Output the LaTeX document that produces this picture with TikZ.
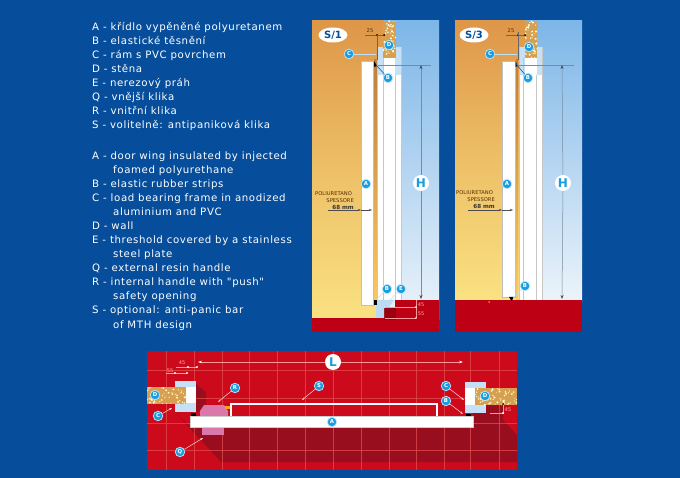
\documentclass[tikz,border=0pt]{standalone}
\usepackage{fontspec}
\setmainfont{DejaVu Sans}
\newfontfamily\legendfont[LetterSpace=6]{DejaVu Sans}
\usetikzlibrary{arrows.meta,shapes.geometric}
\definecolor{bgblue}{RGB}{6,78,156}
\definecolor{badgeblue}{RGB}{24,156,226}
\definecolor{floorred}{RGB}{190,0,20}
\definecolor{tilered}{RGB}{204,10,28}
\definecolor{shadowred}{RGB}{152,14,30}
\definecolor{gridred}{RGB}{226,76,76}
\definecolor{framelight}{RGB}{198,224,245}
\definecolor{wallbrown}{RGB}{214,160,80}
\definecolor{orangetop}{RGB}{222,150,72}
\definecolor{yellowbot}{RGB}{250,226,130}
\definecolor{bluetop}{RGB}{125,182,232}
\definecolor{bluebot}{RGB}{236,244,250}
\definecolor{pinkh}{RGB}{218,120,170}
\definecolor{dimgray}{RGB}{120,140,155}
\tikzset{
  legend/.style={anchor=base west,inner sep=0pt,text=white,font=\legendfont\fontsize{10.2}{12}\selectfont},
  badge/.style={circle,fill=badgeblue,draw=white!75!badgeblue,line width=.7pt,inner sep=0pt,minimum size=9.5pt,text=white,font=\fontsize{5.4}{5}\selectfont\bfseries},
  bigbadge/.style={circle,fill=white,draw=none,inner sep=0pt,minimum size=16pt,text=badgeblue,font=\fontsize{12}{12}\selectfont\bfseries},
  tagoval/.style={ellipse,fill=white,inner sep=0pt,minimum width=29pt,minimum height=15pt,text=bgblue,font=\fontsize{10}{10}\selectfont\bfseries},
  leaderp/.style={draw=white!70!badgeblue,line width=.5pt},
  leaderw/.style={draw=white!85!red,line width=.5pt,-{Stealth[length=3pt,width=2pt]}},
  dimline/.style={draw=dimgray,line width=.5pt,-{Stealth[length=4pt,width=3pt,color=black!70]}},
  smalldim/.style={draw=black!60,line width=.4pt},
  smallarrow/.style={draw=black!70,line width=.4pt,-{Stealth[length=3pt,width=2pt]}},
  smalltxt/.style={inner sep=0pt,text=black!65!orange,font=\fontsize{5.2}{6}\selectfont},
  redtxt/.style={inner sep=0pt,text=white!65!red,font=\fontsize{5}{6}\selectfont},
  framerule/.style={draw=black!22,line width=.5pt},
  gridline/.style={draw=gridred,line width=.6pt,draw opacity=.75},
  lline/.style={draw=white!60!red,line width=.5pt,-{Stealth[length=4pt,width=2.5pt,color=white]}},
  redrule/.style={draw=white!60!red,line width=.35pt},
}
\begin{document}
\begin{tikzpicture}[x=1pt,y=-1pt]
\useasboundingbox (0,0) rectangle (680,478);
\fill[bgblue] (0,0) rectangle (680,478);
% legend text
\node[legend] (cz1) at (92,31) {A - křídlo vypěněné polyuretanem};
\node[legend] (cz2) at (92,45) {B - elastické těsnění};
\node[legend] (cz3) at (92,59) {C - rám s PVC povrchem};
\node[legend] (cz4) at (92,73) {D - stěna};
\node[legend] (cz5) at (92,87) {E - nerezový práh};
\node[legend] (cz6) at (92,101) {Q - vnější klika};
\node[legend] (cz7) at (92,115) {R - vnitřní klika};
\node[legend] (cz8) at (92,129) {S - volitelně: antipaniková klika};
\node[legend] (en1) at (92,160) {A - door wing insulated by injected};
\node[legend] (en2) at (113,174) {foamed polyurethane};
\node[legend] (en3) at (92,188) {B - elastic rubber strips};
\node[legend] (en4) at (92,202) {C - load bearing frame in anodized};
\node[legend] (en5) at (113,216) {aluminium and PVC};
\node[legend] (en6) at (92,230) {D - wall};
\node[legend] (en7) at (92,244) {E - threshold covered by a stainless};
\node[legend] (en8) at (113,258) {steel plate};
\node[legend] (en9) at (92,272) {Q - external resin handle};
\node[legend] (en10) at (92,286) {R - internal handle with "push"};
\node[legend] (en11) at (113,300) {safety opening};
\node[legend] (en12) at (92,314) {S - optional: anti-panic bar};
\node[legend] (en13) at (113,328) {of MTH design};

% ---------- panel S/1
\shade[top color=orangetop,bottom color=yellowbot,middle color=orangetop!45!yellowbot] (312,21) rectangle (384,320);
\shade[top color=bluetop,bottom color=bluebot] (384,21) rectangle (439,320);
\fill[floorred] (312,318) rectangle (439,332);
\fill[floorred] (395,300) rectangle (439,320);
\fill[floorred!80!black] (384,308) rectangle (396,320);
\fill[white] (377,47) rectangle (402,300);
\fill[framelight] (377,47) rectangle (402,58);
\fill[framelight] (377,58) rectangle (384,75);
\fill[framelight] (395,58) rectangle (402,75);
\draw[framerule] (383,58) -- (383,300) (395,75) -- (395,300) (401,47) -- (401,300) (377,47) -- (377,300);
\fill[wallbrown] (383,21) rectangle (396,58);
\begin{scope}
\clip (383,21) rectangle (396,58);
\pgfmathsetseed{11}
\foreach \i in {1,...,45}{\fill[white!85!yellow] (383+13*rnd,21+37*rnd) circle[radius=.4+.8*rnd];}
\end{scope}
\shade[top color=orangetop!85!black,bottom color=yellowbot!75!orange] (374,60) rectangle (376.5,305);
\fill[white] (361,61) rectangle (373,305);
\draw[black!25,line width=.4pt] (361,61) rectangle (373,305);
% threshold
\fill[framelight!85!bluetop] (376,300) -- (394,300) -- (389,307) -- (384,307) -- (384,318) -- (376,318) -- cycle;
\fill[black] (373.5,300) -- (376.5,300) -- (376.5,305) -- (373.5,305) -- cycle;
\fill[black] (374,61) -- (377,66) -- (374,67) -- cycle;
% dimensions
\coordinate (a25l) at (365,35);
\coordinate (a25r) at (385,35);
\draw[smalldim] (a25l) -- (a25r);
\fill[black] (377,35) circle[radius=1] (384,35) circle[radius=1];
\draw[smalldim] (377,35) -- (377,60);
\node[smalltxt] (n25a) at (370,31) {25};
\coordinate (h1t) at (378,65); \coordinate (h1e) at (431,65);
\draw[draw=dimgray,line width=.5pt] (h1t) -- (h1e);
\node[bigbadge] (H1) at (421,183) {H};
\coordinate (h1a) at (421,65); \coordinate (h1b) at (421,299);
\draw[dimline] (H1) -- (h1a);
\draw[dimline] (H1) -- (h1b);
\node[smalltxt,anchor=west] (pa1) at (315,194) {POLIURETANO};
\node[smalltxt,anchor=east] (pa2) at (354,201) {SPESSORE};
\node[anchor=east,inner sep=0pt,text=black!80,font=\fontsize{5.6}{6}\selectfont\bfseries] (pa3) at (354,207) {68 mm};
\coordinate (p1a) at (328,210); \coordinate (p1b) at (361,210); \coordinate (p1c) at (372,210);
\draw[smallarrow] (p1a) -- (p1b);
\draw[smallarrow] (p1b) -- (p1c);
\coordinate (d1a) at (385,307); \coordinate (d1b) at (416,307);
\coordinate (d1c) at (385,318); \coordinate (d1d) at (416,318);
\draw[redrule] (d1a) -- (d1b) (d1c) -- (d1d) (416,300) -- (d1d);
\fill[white] (d1b) circle[radius=.9] (d1d) circle[radius=.9];
\node[redtxt] (n45a) at (421,305) {45};
\node[redtxt] (n55a) at (421,314) {55};
\node[tagoval] (S1) at (333,35) {S/1};
\node[badge] (D1) at (389,45) {D};
\node[badge] (C1) at (349,54) {C};
\node[badge] (B1) at (388,78) {B};
\node[badge] (A1) at (366,184) {A};
\node[badge] (B1b) at (387,289) {B};
\node[badge] (E1) at (401,289) {E};
\coordinate (c1t) at (376,54); \coordinate (b1t) at (376,65);
\coordinate (b1bt) at (376,300); \coordinate (e1t) at (390,300);
\draw[leaderp] (C1) -- (c1t);
\draw[leaderp,draw=bgblue] (B1) -- (b1t);
\draw[leaderp] (B1b) -- (b1bt);
\draw[leaderp] (E1) -- (e1t);

% ---------- panel S/3
\shade[top color=orangetop,bottom color=yellowbot,middle color=orangetop!45!yellowbot] (455,21) rectangle (525,302);
\shade[top color=bluetop,bottom color=bluebot] (525,21) rectangle (582,302);
\fill[floorred] (455,300) rectangle (582,332);
\fill[white] (519,47) rectangle (543,300);
\fill[framelight] (519,47) rectangle (543,58);
\fill[framelight] (519,58) rectangle (525,75);
\fill[framelight] (537,58) rectangle (543,75);
\draw[framerule] (523.5,58) -- (523.5,300) (536,75) -- (536,300) (542.5,47) -- (542.5,300) (519,47) -- (519,300);
\fill[wallbrown] (525,21) rectangle (537,58);
\begin{scope}
\clip (525,21) rectangle (537,58);
\pgfmathsetseed{23}
\foreach \i in {1,...,42}{\fill[white!85!yellow] (525+12*rnd,21+37*rnd) circle[radius=.4+.8*rnd];}
\end{scope}
\shade[top color=orangetop!85!black,bottom color=yellowbot!75!orange] (516,60) rectangle (518,300);
\fill[white] (502,61) rectangle (515,297);
\draw[black!25,line width=.4pt] (502,61) rectangle (515,297);
\fill[black] (509,297) -- (514,297) -- (511.5,301) -- cycle;
\fill[black] (515.5,61) -- (517.5,66) -- (515.5,67) -- cycle;
\fill[orange] (489,302) circle[radius=1];
\coordinate (b25l) at (506,35);
\coordinate (b25r) at (526,35);
\draw[smalldim] (b25l) -- (b25r);
\fill[black] (518,35) circle[radius=1] (525,35) circle[radius=1];
\draw[smalldim] (518,32) -- (518,60);
\node[smalltxt] (n25b) at (511,31) {25};
\coordinate (h3t) at (517,65); \coordinate (h3e) at (574,65);
\draw[draw=dimgray,line width=.5pt] (h3t) -- (h3e);
\node[bigbadge] (H3) at (563,183) {H};
\coordinate (h3a) at (562,65); \coordinate (h3b) at (562,299);
\draw[dimline] (H3) -- (h3a);
\draw[dimline] (H3) -- (h3b);
\node[smalltxt,anchor=west] (pb1) at (456,193) {POLIURETANO};
\node[smalltxt,anchor=east] (pb2) at (495,200) {SPESSORE};
\node[anchor=east,inner sep=0pt,text=black!80,font=\fontsize{5.6}{6}\selectfont\bfseries] (pb3) at (495,206) {68 mm};
\coordinate (p3a) at (468,210); \coordinate (p3b) at (502,210); \coordinate (p3c) at (513,210);
\draw[smallarrow] (p3a) -- (p3b);
\draw[smallarrow] (p3b) -- (p3c);
\node[tagoval] (S3) at (474,35) {S/3};
\node[badge] (D3) at (529,47) {D};
\node[badge] (C3) at (490,54) {C};
\node[badge] (B3) at (528,78) {B};
\node[badge] (A3) at (507,184) {A};
\node[badge] (B3b) at (525,286) {B};
\coordinate (c3t) at (517,54); \coordinate (b3t) at (516,64); \coordinate (b3bt) at (513,298);
\draw[leaderp] (C3) -- (c3t);
\draw[leaderp,draw=bgblue] (B3) -- (b3t);
\draw[leaderp] (B3b) -- (b3bt);

% ---------- plan
\fill[tilered] (147,351) rectangle (517,470);
\fill[shadowred] (175,412) -- (221,462) -- (517,462) -- (517,435) -- (503,420) -- (503,405) -- (473,405) -- (473,427) -- (190,427) -- cycle;
\fill[shadowred] (196,384) -- (206,392) -- (206,408) -- (196,412) -- cycle;
\begin{scope}
\clip (147,351) rectangle (517,470);
\foreach \x in {166,194,222,249,277,305,333,361,389,416,444,470,499}{\draw[gridline] (\x,351) -- (\x,470);}
\foreach \y in {370,398,423,450}{\draw[gridline] (147,\y) -- (517,\y);}
\end{scope}
% left frame
\fill[framelight] (175,381) rectangle (196,412);
\fill[white] (186,387) rectangle (196,403);
\fill[wallbrown] (147,387) rectangle (186,404);
\begin{scope}
\clip (147,387) rectangle (186,404);
\pgfmathsetseed{7}
\foreach \i in {1,...,60}{\fill[white!85!yellow] (147+39*rnd,387+17*rnd) circle[radius=.4+.7*rnd];}
\end{scope}
% right frame
\fill[framelight] (465,382) rectangle (486,413);
\fill[white] (465,388) rectangle (475,405);
\fill[wallbrown] (475,388) rectangle (517,405);
\begin{scope}
\clip (475,388) rectangle (517,405);
\pgfmathsetseed{5}
\foreach \i in {1,...,60}{\fill[white!85!yellow] (475+42*rnd,388+17*rnd) circle[radius=.4+.7*rnd];}
\end{scope}
% handles
\fill[pinkh] (200,411) -- (204,405) -- (224,405) -- (228,411) -- (228,416) -- (200,416) -- cycle;
\fill[pinkh] (202,425) rectangle (224,435);
\fill[orange!70!yellow] (225,406) rectangle (231,409);
% push bar and door
\draw[white,line width=1.8pt] (231,416) -- (231,404) -- (437,404) -- (437,416);
\fill[white] (190,416) rectangle (473,427);
\draw[black!20,line width=.4pt] (190,416) rectangle (473,427);
\fill[black] (191,413) rectangle (196,416);
\fill[black] (466,414) rectangle (471,416);
% L dimension
\node[bigbadge] (L0) at (333,362) {L};
\coordinate (lla) at (198,362); \coordinate (llb) at (463,362);
\draw[lline] (L0) -- (lla);
\draw[lline] (L0) -- (llb);
% small dimensions
\coordinate (q1a) at (176,367); \coordinate (q1b) at (188,367); \coordinate (q1c) at (197,367);
\coordinate (q2a) at (166,373); \coordinate (q2b) at (175,373); \coordinate (q2c) at (187,373);
\draw[redrule] (q1a) -- (q1c) (q2a) -- (q2c);
\fill[white] (q1b) circle[radius=1.2] (q1c) circle[radius=1.2] (q2b) circle[radius=1.2] (q2c) circle[radius=1.2];
\node[redtxt] (n45b) at (182,363) {45};
\node[redtxt] (n55b) at (170,371) {55};
\coordinate (r1a) at (490,413); \coordinate (r1b) at (503,413); \coordinate (r1c) at (503,404);
\draw[redrule] (r1a) -- (r1b) -- (r1c);
\fill[white] (r1b) circle[radius=1.2];
\fill[black] (r1c) circle[radius=1];
\node[redtxt] (n45c) at (508,410) {45};
% badges
\node[badge] (Dp) at (155,395) {D};
\node[badge] (Cp) at (158,416) {C};
\node[badge] (Rp) at (235,388) {R};
\node[badge] (Sp) at (319,386) {S};
\node[badge] (Ap) at (332,422) {A};
\node[badge] (Qp) at (180,452) {Q};
\node[badge] (Cq) at (446,386) {C};
\node[badge] (Bq) at (446,401) {B};
\node[badge] (Dq) at (485,396) {D};
\coordinate (ct) at (172,408); \coordinate (rt) at (218,402); \coordinate (st) at (302,400);
\coordinate (qt) at (203,438); \coordinate (cqt) at (464,400); \coordinate (bqt) at (463,414);
\draw[leaderw] (Cp) -- (ct);
\draw[leaderw] (Rp) -- (rt);
\draw[leaderw] (Sp) -- (st);
\draw[leaderw] (Qp) -- (qt);
\draw[leaderw] (Cq) -- (cqt);
\draw[leaderw] (Bq) -- (bqt);
\end{tikzpicture}
\end{document}
